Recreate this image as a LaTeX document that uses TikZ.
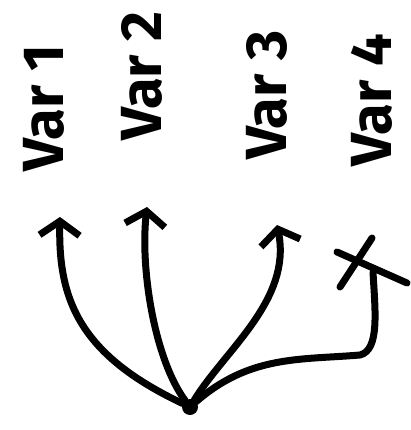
\documentclass[tikz,border=0pt]{standalone}
\usepackage{fontspec}
\setmainfont{Fira Sans}
\usetikzlibrary{arrows.meta}

\begin{document}
\begin{tikzpicture}[x=1pt, y=-1pt, line cap=round, line join=round,
  varlabel/.style={rotate=90, font=\fontsize{58}{58}\selectfont\bfseries, inner sep=0pt},
  link/.style={line width=7pt, -{Straight Barb[length=14pt, width=40pt]}}]
  \useasboundingbox (0,0) rectangle (410,430);
  % Labels
  \foreach \n/\x/\y in {1/44/108, 2/142/76, 3/267/95, 4/372/100} {
    \node[varlabel] (v\n) at (\x,\y) {Var \n};
  }
  % Root and arrow ends
  \node[circle, fill, inner sep=0pt, minimum size=16pt] (root) at (190,407) {};
  \coordinate (t1) at (60,217);
  \coordinate (t2) at (147,207);
  \coordinate (t3) at (277,225);
  \coordinate (t4) at (373,272);
  % Arrows
  \draw[link] (root) .. controls (80,355) and (58,300) .. (t1);
  \draw[link] (root) .. controls (155,360) and (140,270) .. (t2);
  \draw[link] (root) .. controls (225,350) and (292,300) .. (t3);
  \draw[line width=7pt] (root) .. controls (250,355) and (300,360) .. (360,355)
    .. controls (380,350) and (375,310) .. (t4);
  % Crossed out
  \draw[line width=7pt] (337,252) -- (407,283);
  \draw[line width=7pt] (340,287) -- (372,238);
\end{tikzpicture}
\end{document}
